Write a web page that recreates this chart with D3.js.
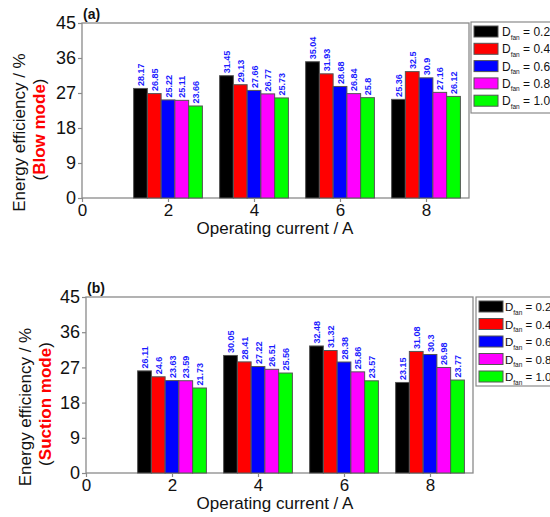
<!DOCTYPE html>
<html><head><meta charset="utf-8">
<script src="https://cdn.jsdelivr.net/npm/d3@7"></script>
<style>
html,body{margin:0;padding:0;background:#fff;}
svg text{font-family:"Liberation Sans",Arial,sans-serif;}
</style></head>
<body><svg id="c" width="550" height="517"></svg>
<script>
const currents = [2, 4, 6, 8];
const seriesNames = ["0.2", "0.4", "0.6", "0.8", "1.0"];
const seriesColors = ["#000000", "#ff0000", "#0000ff", "#ff00ff", "#00ff00"];
const xTicks = [0, 2, 4, 6, 8];
const yTicks = [0, 9, 18, 27, 36, 45];
// Blow mode: one array per D_fan series, values at 2,4,6,8 A
const blowD02 = [28.17, 31.45, 35.04, 25.36];
const blowD04 = [26.85, 29.13, 31.93, 32.5];
const blowD06 = [25.22, 27.66, 28.68, 30.9];
const blowD08 = [25.11, 26.77, 26.84, 27.16];
const blowD10 = [23.66, 25.73, 25.8, 26.12];
// Suction mode
const sucD02 = [26.11, 30.05, 32.48, 23.15];
const sucD04 = [24.6, 28.41, 31.32, 31.08];
const sucD06 = [23.63, 27.22, 28.38, 30.3];
const sucD08 = [23.59, 26.51, 25.86, 26.98];
const sucD10 = [21.73, 25.56, 23.57, 23.77];

const svg = d3.select("#c");
const FONT = '"Liberation Sans",Arial,sans-serif';

function drawPanel(cfg) {
  const g = svg.append("g");
  const x = d3.scaleLinear().domain([0, 9]).range([cfg.left, cfg.right]);
  const y = d3.scaleLinear().domain([0, 45]).range([cfg.bottom, cfg.top]);
  const sub = d3.scaleBand().domain(d3.range(seriesNames.length)).range([-0.8, 0.8]);

  // plot frame
  g.append("rect").attr("x", cfg.left).attr("y", cfg.top)
    .attr("width", cfg.right - cfg.left).attr("height", cfg.bottom - cfg.top)
    .attr("fill", "none").attr("stroke", "#8a8a8a").attr("stroke-width", 1.3);

  // bars
  cfg.data.forEach((vals, si) => {
    vals.forEach((v, ci) => {
      const x0 = x(currents[ci] + sub(si));
      const x1 = x(currents[ci] + sub(si) + sub.bandwidth());
      g.append("rect").attr("x", x0).attr("y", y(v))
        .attr("width", x1 - x0).attr("height", y(0) - y(v))
        .attr("fill", seriesColors[si]).attr("stroke", "#555").attr("stroke-width", 1);
      const cx = (x0 + x1) / 2;
      g.append("text").attr("transform", `translate(${cx + 3.5},${y(v) - 2.5}) rotate(-90)`)
        .attr("font-size", 9).attr("font-weight", "bold").attr("fill", "#1a1aff")
        .text(String(v));
    });
  });

  // axes
  const ya = g.append("g").attr("transform", `translate(${cfg.left},0)`)
    .call(d3.axisLeft(y).tickValues(yTicks).tickSize(4).tickPadding(2).tickFormat(d3.format("d")));
  const xa = g.append("g").attr("transform", `translate(0,${cfg.bottom})`)
    .call(d3.axisBottom(x).tickValues(xTicks).tickSize(4).tickPadding(2).tickFormat(d3.format("d")));
  [ya, xa].forEach(a => {
    a.select(".domain").remove();
    a.selectAll("line").attr("stroke", "#8a8a8a").attr("stroke-width", 1.2);
    a.selectAll("text").attr("font-size", 18).attr("fill", "#111").style("font-family", FONT);
  });
  xa.selectAll("text").attr("font-size", 17);

  // panel tag
  g.append("text").attr("x", cfg.left + 1).attr("y", cfg.top - 4)
    .attr("font-size", 14).attr("font-weight", "bold").attr("fill", "#111").text(cfg.tag);

  // x axis title
  g.append("text").attr("x", 275).attr("y", cfg.bottom + 36).attr("text-anchor", "middle")
    .attr("font-size", 17).attr("fill", "#111").text("Operating current / A");

  // y axis titles
  const cy = (cfg.top + cfg.bottom) / 2 + 22;
  g.append("text").attr("transform", `translate(${cfg.yl1},${cy}) rotate(-90)`)
    .attr("text-anchor", "middle").attr("font-size", 17).attr("fill", "#111")
    .text("Energy efficiency / %");
  const t2 = g.append("text").attr("transform", `translate(${cfg.yl2},${cy - 3}) rotate(-90)`)
    .attr("text-anchor", "middle").attr("font-size", 17).attr("fill", "#111");
  t2.append("tspan").text("(");
  t2.append("tspan").attr("fill", "#ff0000").attr("font-weight", "bold").text(cfg.mode);
  t2.append("tspan").text(")");

  // legend
  const lg = g.append("g");
  lg.append("rect").attr("x", cfg.lx).attr("y", cfg.ly).attr("width", 120).attr("height", cfg.lh)
    .attr("fill", "#fff").attr("stroke", "#8a8a8a").attr("stroke-width", 1.2);
  seriesNames.forEach((s, i) => {
    const yy = cfg.ly + 4 + i * cfg.lstep;
    lg.append("rect").attr("x", cfg.lx + 3).attr("y", yy).attr("width", 24).attr("height", 11)
      .attr("fill", seriesColors[i]).attr("stroke", "#555").attr("stroke-width", 1);
    const t = lg.append("text").attr("x", cfg.lx + cfg.ltx).attr("y", yy + 10)
      .attr("font-size", cfg.lfs).attr("fill", "#111");
    t.append("tspan").text("D");
    t.append("tspan").attr("font-size", 6.5).attr("dy", 3.5).text("fan");
    t.append("tspan").attr("dy", -3.5).text(" = " + s);
  });
}

drawPanel({
  tag: "(a)", mode: "Blow mode",
  data: [blowD02, blowD04, blowD06, blowD08, blowD10],
  left: 82, right: 469, top: 23, bottom: 198,
  yl1: 25, yl2: 45,
  lx: 471, ly: 22, lh: 91, lstep: 17.3, ltx: 31, lfs: 12
});
drawPanel({
  tag: "(b)", mode: "Suction mode",
  data: [sucD02, sucD04, sucD06, sucD08, sucD10],
  left: 86, right: 473, top: 297, bottom: 473,
  yl1: 31, yl2: 51,
  lx: 476, ly: 297, lh: 89, lstep: 17.5, ltx: 29, lfs: 11.5
});
</script></body></html>
